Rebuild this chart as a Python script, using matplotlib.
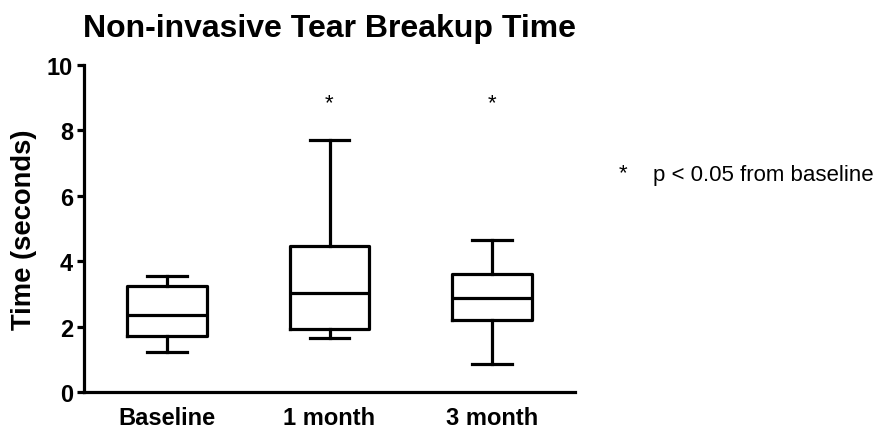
import matplotlib
matplotlib.use("Agg")
import matplotlib.pyplot as plt

plt.rcParams['font.family'] = ['Liberation Sans', 'DejaVu Sans']

# Box summaries for tear breakup time (seconds)
groups = ["Baseline", "1 month", "3 month"]
whisker_low = [1.23, 1.65, 0.87]
q1 = [1.70, 1.94, 2.21]
median = [2.37, 3.03, 2.86]
q3 = [3.25, 4.46, 3.61]
whisker_high = [3.54, 7.72, 4.66]
significant = [False, True, True]
star_y = 8.85

yticks = [0, 2, 4, 6, 8, 10]

fig = plt.figure(figsize=(8.86, 4.35), dpi=100)
ax = fig.add_axes([84 / 886, 1 - 393 / 435, (575 - 84) / 886, (393 - 66) / 435])

stats = []
for i, name in enumerate(groups):
    stats.append(dict(label=name, whislo=whisker_low[i], q1=q1[i], med=median[i],
                      q3=q3[i], whishi=whisker_high[i], fliers=[]))

lw = 2.3
ax.bxp(stats, positions=[1, 2, 3], widths=0.49, capwidths=0.245,
       showfliers=False, patch_artist=False,
       boxprops=dict(color="black", linewidth=lw),
       medianprops=dict(color="black", linewidth=lw),
       whiskerprops=dict(color="black", linewidth=lw),
       capprops=dict(color="black", linewidth=lw))

for i, sig in enumerate(significant):
    if sig:
        ax.text(i + 1, star_y, "*", ha="center", va="center", fontsize=16)

ax.set_xlim(0.487, 3.513)
ax.set_ylim(0, 10)
ax.set_yticks(yticks)
ax.set_yticklabels([str(t) for t in yticks])
ax.set_xticks([1, 2, 3])
ax.set_xticklabels(groups)

for side in ("top", "right"):
    ax.spines[side].set_visible(False)
for side in ("left", "bottom"):
    ax.spines[side].set_linewidth(2.3)
    ax.spines[side].set_capstyle("projecting")

ax.tick_params(axis="y", length=5, width=2.3, pad=3, labelsize=17)
ax.tick_params(axis="x", length=0, pad=10, labelsize=17)
for lab in ax.get_xticklabels() + ax.get_yticklabels():
    lab.set_fontweight("bold")

ax.set_ylabel("Time (seconds)", fontsize=19.7, fontweight="bold", labelpad=7)
ax.set_title("Non-invasive Tear Breakup Time", fontsize=23, fontweight="bold", pad=21)

fig.text(623 / 886, 1 - 174 / 435, "*", ha="center", va="center", fontsize=16)
fig.text(653 / 886, 1 - 175 / 435, "p < 0.05 from baseline", ha="left", va="center", fontsize=16)

fig.savefig("out.png", dpi=100)
